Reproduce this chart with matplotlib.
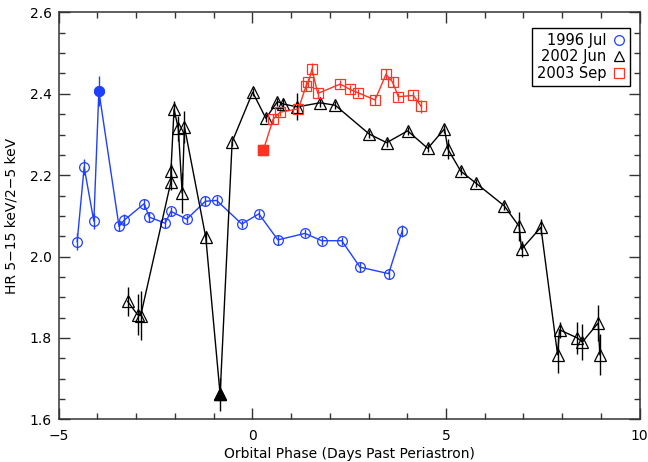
"""
Cociente de dureza HR (5-15 keV / 2-5 keV) frente a la fase orbital
"""

import matplotlib
matplotlib.use('Agg')
import matplotlib.pyplot as plt
from matplotlib.lines import Line2D
from matplotlib.ticker import MultipleLocator

# 1996 Jul
fase_1996 = [-4.52, -4.34, -4.09, -3.96, -3.44, -3.30, -2.79, -2.66, -2.25, -2.10, -1.69,
             -1.21, -0.92, -0.27, 0.17, 0.66, 1.36, 1.79, 2.31, 2.78, 3.52, 3.87]
hr_1996 = [2.037, 2.220, 2.087, 2.407, 2.074, 2.090, 2.130, 2.097, 2.082, 2.111, 2.092,
           2.136, 2.138, 2.080, 2.105, 2.041, 2.057, 2.039, 2.039, 1.974, 1.958, 2.063]
err_1996 = [0.02, 0.02, 0.02, 0.037, 0.01, 0.015, 0.012, 0.012, 0.012, 0.012, 0.01,
            0.012, 0.012, 0.01, 0.01, 0.012, 0.01, 0.01, 0.01, 0.012, 0.012, 0.015]
lleno_1996 = [3]

# 2002 Jun
fase_2002 = [-3.22, -2.96, -2.88, -2.10, -2.10, -2.02, -1.91, -1.81, -1.75, -1.20, -0.83,
             -0.52, 0.01, 0.35, 0.65, 0.80, 1.16, 1.75, 2.14, 3.02, 3.47, 4.01, 4.53,
             4.96, 5.05, 5.38, 5.78, 6.50, 6.89, 6.95, 7.45, 7.88, 7.93, 8.39, 8.52,
             8.93, 8.97]
hr_2002 = [1.890, 1.857, 1.855, 2.184, 2.210, 2.362, 2.315, 2.156, 2.319, 2.047, 1.661,
           2.282, 2.404, 2.340, 2.381, 2.375, 2.368, 2.378, 2.372, 2.301, 2.280, 2.309,
           2.266, 2.314, 2.264, 2.210, 2.180, 2.125, 2.074, 2.018, 2.072, 1.759, 1.820,
           1.800, 1.790, 1.837, 1.759]
err_2002 = [0.035, 0.05, 0.06, 0.02, 0.02, 0.02, 0.03, 0.05, 0.04, 0.015, 0.04,
            0.01, 0.01, 0.01, 0.01, 0.015, 0.033, 0.01, 0.01, 0.01, 0.01, 0.01,
            0.01, 0.01, 0.025, 0.01, 0.01, 0.01, 0.035, 0.02, 0.02, 0.045, 0.02,
            0.04, 0.045, 0.045, 0.05]
lleno_2002 = [10]

# 2003 Sep
fase_2003 = [0.285, 0.54, 0.72, 1.19, 1.39, 1.45, 1.54, 1.69, 2.27, 2.52, 2.72, 3.17,
             3.45, 3.62, 3.77, 4.16, 4.36]
hr_2003 = [2.262, 2.338, 2.355, 2.363, 2.420, 2.428, 2.461, 2.401, 2.424, 2.411, 2.403,
           2.385, 2.448, 2.429, 2.393, 2.396, 2.369]
err_2003 = [0.01, 0.012, 0.01, 0.012, 0.012, 0.012, 0.015, 0.012, 0.01, 0.01, 0.01,
            0.012, 0.012, 0.012, 0.01, 0.01, 0.015]
lleno_2003 = [0]

AZUL = '#2040ff'
ROJO = '#ff3322'
NEGRO = 'black'

plt.rcParams['font.family'] = ['DejaVu Sans']

fig = plt.figure(figsize=(6.48, 4.62), dpi=100)
fig.subplots_adjust(left=0.0904, right=0.9872, top=0.973, bottom=0.0924)
ax = fig.add_subplot(111)


def dibujar_serie(fase, hr, err, lleno, color, marcador, ms):
    ax.errorbar(fase, hr, yerr=err, color=color, ecolor=color, elinewidth=1.0,
                capsize=0, lw=1.0, marker=marcador, ms=ms, mfc='none',
                mec=color, mew=0.9, zorder=3)
    ax.plot([fase[i] for i in lleno], [hr[i] for i in lleno], linestyle='none',
            marker=marcador, ms=ms, color=color, zorder=4)


dibujar_serie(fase_1996, hr_1996, err_1996, lleno_1996, AZUL, 'o', 7)
dibujar_serie(fase_2002, hr_2002, err_2002, lleno_2002, NEGRO, '^', 8.5)
dibujar_serie(fase_2003, hr_2003, err_2003, lleno_2003, ROJO, 's', 7)

ax.set_xlim(-5, 10)
ax.set_ylim(1.6, 2.6)
ax.xaxis.set_major_locator(MultipleLocator(5))
ax.xaxis.set_minor_locator(MultipleLocator(1))
ax.yaxis.set_major_locator(MultipleLocator(0.2))
ax.yaxis.set_minor_locator(MultipleLocator(0.05))
ax.yaxis.set_major_formatter(plt.FuncFormatter(lambda v, p: f'{v:.1f}'))
ax.tick_params(which='both', direction='in', top=True, right=True,
               labelsize=10, color='#333333', width=1.0)
ax.tick_params(which='major', length=8)
ax.tick_params(which='minor', length=4)
ax.tick_params(axis='x', pad=7)
ax.tick_params(axis='y', pad=5)
for s in ax.spines.values():
    s.set_linewidth(1.1)
    s.set_color('#333333')

ax.set_xlabel('Orbital Phase (Days Past Periastron)', fontsize=10, labelpad=3)
ax.set_ylabel('HR 5\u221215 keV/2\u22125 keV', fontsize=10, labelpad=8)

manijas = [
    Line2D([], [], linestyle='none', marker='o', ms=7, mfc='none', mec=AZUL, mew=0.9),
    Line2D([], [], linestyle='none', marker='^', ms=7, mfc='none', mec=NEGRO, mew=0.9),
    Line2D([], [], linestyle='none', marker='s', ms=7, mfc='none', mec=ROJO, mew=0.9),
]
leg = ax.legend(manijas, ['1996 Jul', '2002 Jun', '2003 Sep'], loc='upper right',
                bbox_to_anchor=(0.984, 0.963), borderaxespad=0, markerfirst=False,
                handlelength=0.8, handletextpad=0.5, fontsize=10.5, fancybox=False,
                framealpha=1, edgecolor='black', borderpad=0.35, labelspacing=0.12)
leg.get_frame().set_linewidth(1.0)

plt.savefig('out.png', dpi=100)
